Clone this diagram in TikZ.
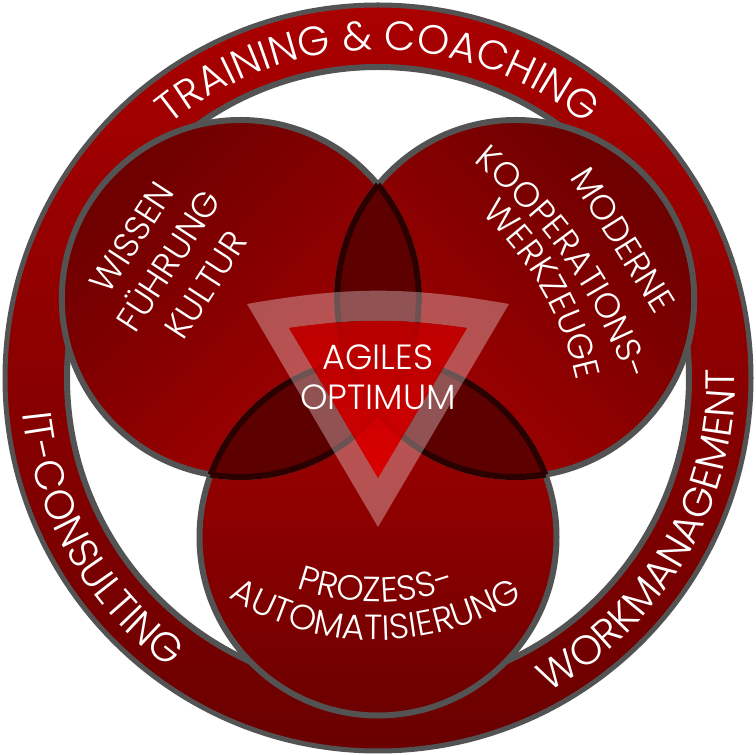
\documentclass[tikz,border=0pt]{standalone}
\usepackage{fontspec}
\setmainfont{Poppins}[UprightFont={* Light}]
\usetikzlibrary{decorations.text}

\definecolor{ringtop}{HTML}{AA0000}
\definecolor{ringbot}{HTML}{6A0000}
\definecolor{bubdark}{HTML}{6C0000}
\definecolor{bublight}{HTML}{A60000}
\definecolor{lensred}{HTML}{5C0000}
\definecolor{lensline}{HTML}{2A0000}
\definecolor{edgegray}{HTML}{535353}
\definecolor{coretop}{HTML}{C20000}
\definecolor{corebot}{HTML}{E40000}

\newcommand\ringfont{\fontsize{41}{41}\selectfont}
\newcommand\bubblefont{\fontsize{35}{44}\selectfont}
\newcommand\bubr{178.5}

\begin{document}
\begin{tikzpicture}[
  x=1pt, y=1pt,
  edge/.style={draw=edgegray, line width=6pt},
  bubble/.style={top color=bubdark, bottom color=bublight},
  lens/.style={fill=lensred},
  lens edge/.style={draw=lensline, line width=6pt},
  ring arc/.style={decorate, decoration={text along path, text align=center,
    text color=white, text={|\ringfont|#1}}},
  bubble arc/.style={decorate, decoration={text along path, text align=center,
    text color=white, text={|\bubblefont|#1}}},
  bubble label/.style={text=white, font=\bubblefont, align=center, inner sep=0pt}
]
\fill[white] (0,0) rectangle (756,755);
\useasboundingbox (0,0) rectangle (756,755);
\coordinate (mid) at (378,377);
\path (mid) ++(150:159) coordinate (lc)
      (mid) ++(30:159) coordinate (rc)
      (mid) ++(270:159) coordinate (bc);

% outer ring
\shade[top color=ringtop, bottom color=ringbot, even odd rule]
  (mid) circle[radius=373] (mid) circle[radius=311];
\draw[draw=edgegray, line width=5pt] (mid) circle[radius=373];
\draw[edge] (mid) circle[radius=311];

% three bubbles
\foreach \c/\ang in {lc/45, rc/-45, bc/180}
  \shade[bubble, shading angle=\ang] (\c) circle[radius=\bubr];
\foreach \c in {lc, rc, bc}
  \draw[edge] (\c) circle[radius=\bubr];

\foreach \a/\b in {lc/rc, lc/bc, rc/bc} {
  \begin{scope}
    \clip (\a) circle[radius=\bubr];
    \fill[lens] (\b) circle[radius=\bubr];
  \end{scope}
}
\foreach \a/\b in {lc/rc, rc/lc, lc/bc, bc/lc, rc/bc, bc/rc} {
  \begin{scope}
    \clip (\a) circle[radius=\bubr];
    \draw[lens edge] (\b) circle[radius=\bubr];
  \end{scope}
}

% triangle in the middle
\fill[white, fill opacity=0.32, even odd rule]
  (247,451) to[bend left=10] (509,451) -- (378,228) -- cycle
  (289,427) to[bend left=8] (467,427) -- (378,277) -- cycle;
\shade[top color=coretop, bottom color=corebot, fill opacity=0.88]
  (289,427) to[bend left=8] (467,427) -- (378,277) -- cycle;

% labels
\path[ring arc={TRAINING {\&} COACHING}] (mid) ++(170:328)
  arc[start angle=170, end angle=10, radius=328];
\path[ring arc={IT-CONSULTING}] (mid) ++(150:357)
  arc[start angle=150, end angle=270, radius=357];
\path[ring arc={WORKMANAGEMENT}] (mid) ++(270:357)
  arc[start angle=270, end angle=390, radius=357];

\node[bubble label, rotate=57] (wissen) at (169,494) {WISSEN\\FÜHRUNG\\KULTUR};
\node[bubble label, rotate=-58] (moderne) at (623,515) {MODERNE};
\path[bubble arc={KOOPERATIONS-}] (165.5,214.5) ++(70:488)
  arc[start angle=70, end angle=0, radius=488];
\path[bubble arc={WERKZEUGE}] (266.5,306) ++(60:318)
  arc[start angle=60, end angle=0, radius=318];
\path[bubble arc={PROZESS-}] (376,393) ++(200:240)
  arc[start angle=200, end angle=340, radius=240];
\path[bubble arc={AUTOMATISIERUNG}] (376,393) ++(200:278)
  arc[start angle=200, end angle=340, radius=278];
\node[bubble label, font=\fontsize{35}{40}\selectfont] (core) at (378,378) {AGILES\\OPTIMUM};
\end{tikzpicture}
\end{document}
